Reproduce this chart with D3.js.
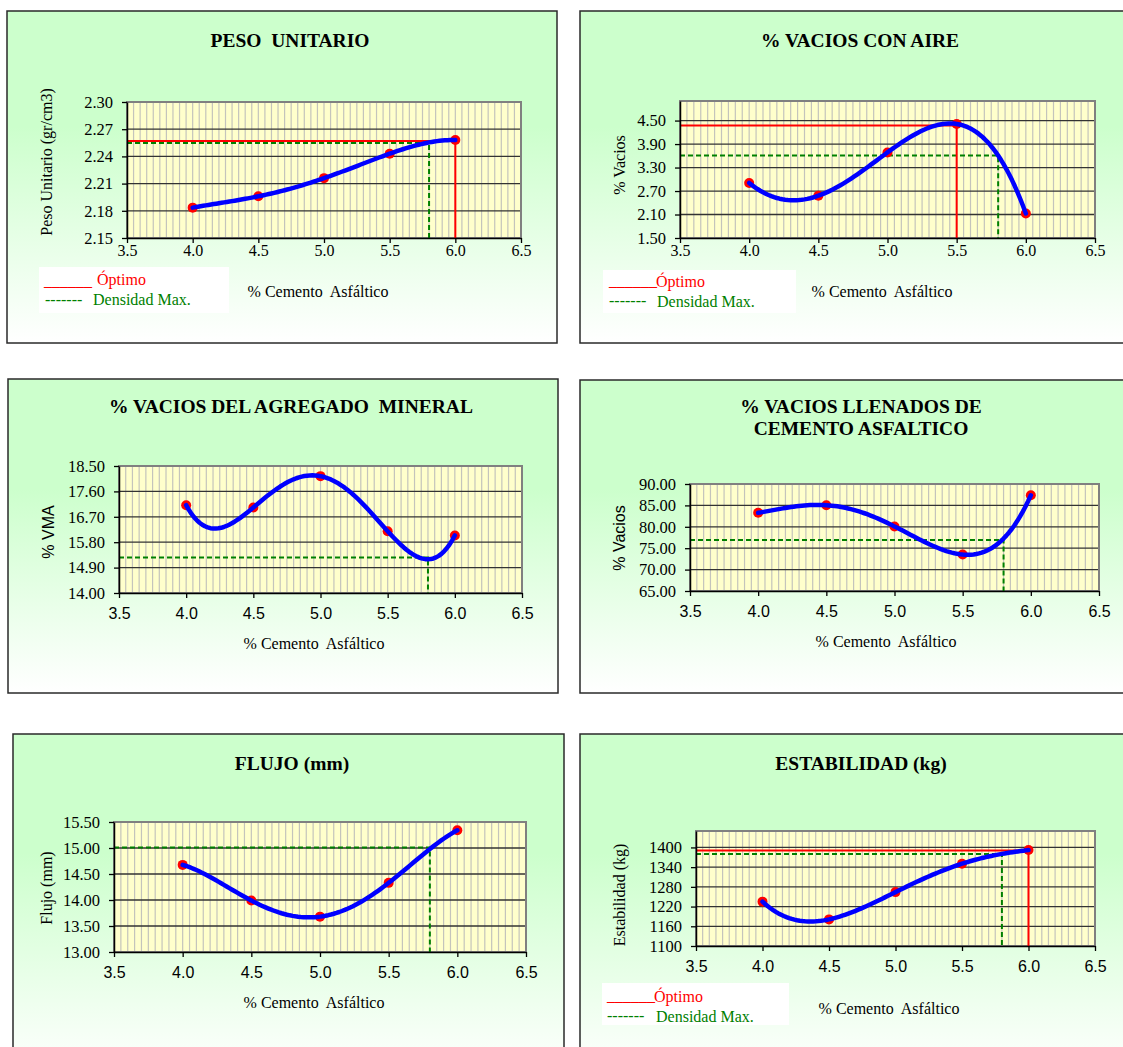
<!DOCTYPE html>
<html>
<head>
<meta charset="utf-8">
<script src="https://cdn.jsdelivr.net/npm/d3@7"></script>
<style>
	body { margin: 0; background: #fff; }
	svg { display: block; }
	.serif { font-family: "Liberation Serif", "Times New Roman", serif; }
	.sans { font-family: "Liberation Sans", Arial, sans-serif; }
</style>
</head>
<body>
<svg id="chart" width="1123" height="1047"></svg>
<script>
"use strict";

// % cemento asfaltico (eje x comun a los seis graficos)
var asfalto = [4.0, 4.5, 5.0, 5.5, 6.0];
var xTicks = [3.5, 4.0, 4.5, 5.0, 5.5, 6.0, 6.5];

// peso unitario (gr/cm3)
var pesoUnitario = [2.1835, 2.196, 2.216, 2.243, 2.258];
var pesoTicks = [2.15, 2.18, 2.21, 2.24, 2.27, 2.30];
var pesoDomain = [2.15, 2.30];
var pesoOptimo = [6.0, 2.257];
var pesoDensidad = [5.8, 2.2548];

// % vacios con aire
var vaciosAire = [2.906, 2.58, 3.686, 4.414, 2.126];
var vaciosTicks = [1.5, 2.1, 2.7, 3.3, 3.9, 4.5];
var vaciosDomain = [1.5, 5.0];
var vaciosOptimo = [5.5, 4.371];
var vaciosDensidad = [5.8, 3.609];

// % vacios del agregado mineral
var vma = [17.11, 17.03, 18.14, 16.19, 16.04];
var vmaTicks = [14.0, 14.9, 15.8, 16.7, 17.6, 18.5];
var vmaDomain = [14.0, 18.5];
var vmaDensidad = [5.8, 15.26];

// % vacios llenados de cemento asfaltico
var vfa = [83.27, 85.05, 80.09, 73.51, 87.37];
var vfaTicks = [65, 70, 75, 80, 85, 90];
var vfaDomain = [65, 90];
var vfaDensidad = [5.8, 76.92];

// flujo (mm)
var flujo = [14.675, 13.99, 13.68, 14.33, 15.34];
var flujoTicks = [13.0, 13.5, 14.0, 14.5, 15.0, 15.5];
var flujoDomain = [13.0, 15.5];
var flujoDensidad = [5.8, 15.01];

// estabilidad (kg)
var estabilidad = [1235, 1181, 1264, 1350.5, 1392];
var estabTicks = [1100, 1160, 1220, 1280, 1340, 1400];
var estabDomain = [1100, 1450];
var estabOptimo = [6.0, 1391];
var estabDensidad = [5.8, 1380];

var f2 = d3.format('.2f');
var f0 = d3.format('d');
var f1 = d3.format('.1f');

// one entry per chart: data refs + where it sits on the page
var charts = [
	{
		title: ['PESO  UNITARIO'], titleX: 290, titleY: 47,
		values: pesoUnitario, ticks: pesoTicks, domain: pesoDomain, fmt: f2,
		optimo: pesoOptimo, densidad: pesoDensidad,
		frame: [7, 11, 550, 332], plot: [127, 102, 394, 136],
		ylabel: 'Peso Unitario (gr/cm3)', ylabelFont: 'serif', ylabelPos: [46, 162],
		xFont: 'serif', xlabelPos: [318, 297],
		legend: { box: [39, 267, 190, 46], red: [44, 286], redText: [97, 285], green: [45, 305], greenText: [93, 305] }
	},
	{
		title: ['% VACIOS CON AIRE'], titleX: 860, titleY: 47,
		values: vaciosAire, ticks: vaciosTicks, domain: vaciosDomain, fmt: f2,
		optimo: vaciosOptimo, densidad: vaciosDensidad,
		frame: [580, 11, 550, 332], plot: [680, 101, 415, 137],
		ylabel: '% Vacios', ylabelFont: 'serif', ylabelPos: [619, 165],
		xFont: 'serif', xlabelPos: [882, 297],
		legend: { box: [603, 270, 193, 43], red: [609, 286], redText: [656, 287], green: [609, 306], greenText: [657, 307] }
	},
	{
		title: ['% VACIOS DEL AGREGADO  MINERAL'], titleX: 291, titleY: 413,
		values: vma, ticks: vmaTicks, domain: vmaDomain, fmt: f2,
		optimo: null, densidad: vmaDensidad,
		frame: [8, 379, 550, 314], plot: [119, 466, 403, 127],
		ylabel: '% VMA', ylabelFont: 'sans', ylabelPos: [48, 532],
		xFont: 'sans', xlabelPos: [314, 649],
		legend: null
	},
	{
		title: ['% VACIOS LLENADOS DE', 'CEMENTO ASFALTICO'], titleX: 861, titleY: 413,
		values: vfa, ticks: vfaTicks, domain: vfaDomain, fmt: f2,
		optimo: null, densidad: vfaDensidad,
		frame: [580, 380, 550, 313], plot: [690, 484, 409, 107],
		ylabel: '% Vacios', ylabelFont: 'sans', ylabelPos: [619, 538],
		xFont: 'sans', xlabelPos: [886, 647],
		legend: null
	},
	{
		title: ['FLUJO (mm)'], titleX: 292, titleY: 770,
		values: flujo, ticks: flujoTicks, domain: flujoDomain, fmt: f2,
		optimo: null, densidad: flujoDensidad,
		frame: [13, 734, 551, 340], plot: [114, 822, 412, 130],
		ylabel: 'Flujo (mm)', ylabelFont: 'serif', ylabelPos: [46, 888],
		xFont: 'sans', xlabelPos: [314, 1008],
		legend: null
	},
	{
		title: ['ESTABILIDAD (kg)'], titleX: 861, titleY: 770,
		values: estabilidad, ticks: estabTicks, domain: estabDomain, fmt: f0,
		optimo: estabOptimo, densidad: estabDensidad,
		frame: [580, 734, 550, 340], plot: [696, 831, 399, 115],
		ylabel: 'Estabilidad (kg)', ylabelFont: 'serif', ylabelPos: [619, 895],
		xFont: 'sans', xlabelPos: [889, 1014],
		legend: { box: [602, 983, 187, 42], red: [607, 1001], redText: [654, 1002], green: [607, 1021], greenText: [656, 1022] }
	}
];

var svg = d3.select('#chart');

var grad = svg.append('defs').append('linearGradient')
	.attr('id', 'bg')
	.attr('x1', 0).attr('y1', 0).attr('x2', 0).attr('y2', 1);
grad.append('stop').attr('offset', 0).attr('stop-color', '#ccffcc');
grad.append('stop').attr('offset', 0.35).attr('stop-color', '#ccffcc');
grad.append('stop').attr('offset', 1).attr('stop-color', '#ffffff');

// polynomial trendline of order n-1 (passes through every point, like Excel's order 4 on 5 points)
function trendline(xs, ys) {
	return function(t) {
		var s = 0;
		for (var i = 0; i < xs.length; i++) {
			var l = 1;
			for (var j = 0; j < xs.length; j++) {
				if (j !== i) l *= (t - xs[j]) / (xs[i] - xs[j]);
			}
			s += l * ys[i];
		}
		return s;
	};
}

function drawChart(c) {
	var g = svg.append('g');
	var fr = c.frame, p = c.plot;

	g.append('rect')
		.attr('x', fr[0]).attr('y', fr[1])
		.attr('width', fr[2]).attr('height', fr[3])
		.attr('fill', 'url(#bg)')
		.attr('stroke', '#2a2a2a')
		.attr('stroke-width', 1.5);

	// title (bold serif, may be two lines)
	c.title.forEach(function(line, i) {
		g.append('text')
			.attr('class', 'serif')
			.attr('x', c.titleX).attr('y', c.titleY + i * 22)
			.attr('text-anchor', 'middle')
			.style('font-size', '19.5px')
			.style('font-weight', 'bold')
			.style('white-space', 'pre')
			.text(line);
	});

	var x = d3.scaleLinear().domain([3.5, 6.5]).range([p[0], p[0] + p[2]]);
	var y = d3.scaleLinear().domain(c.domain).range([p[1] + p[3], p[1]]);

	g.append('rect')
		.attr('x', p[0]).attr('y', p[1])
		.attr('width', p[2]).attr('height', p[3])
		.attr('fill', '#ffffcc');

	// minor vertical gridlines every 0.05
	var minor = d3.range(71, 130).map(function(i) { return i * 0.05; });
	g.append('g').selectAll('line')
		.data(minor).enter()
		.append('line')
		.attr('x1', function(d) { return x(d); })
		.attr('x2', function(d) { return x(d); })
		.attr('y1', p[1]).attr('y2', p[1] + p[3])
		.attr('stroke', '#c4c4bc')
		.attr('stroke-width', 1.2);

	// major horizontal gridlines
	g.append('g').selectAll('line')
		.data(c.ticks).enter()
		.append('line')
		.attr('x1', p[0]).attr('x2', p[0] + p[2])
		.attr('y1', function(d) { return y(d); })
		.attr('y2', function(d) { return y(d); })
		.attr('stroke', '#333')
		.attr('stroke-width', 1.3);

	g.append('rect')
		.attr('x', p[0]).attr('y', p[1])
		.attr('width', p[2]).attr('height', p[3])
		.attr('fill', 'none')
		.attr('stroke', '#808080')
		.attr('stroke-width', 2);

	// reference lines
	var bottom = c.domain[0];
	if (c.densidad) {
		var d = c.densidad;
		g.append('path')
			.attr('d', d3.line()([[x(3.5), y(d[1])], [x(d[0]), y(d[1])], [x(d[0]), y(bottom)]]))
			.attr('fill', 'none')
			.attr('stroke', '#008000')
			.attr('stroke-width', 2)
			.attr('stroke-dasharray', '5,3');
	}
	if (c.optimo) {
		var o = c.optimo;
		g.append('path')
			.attr('d', d3.line()([[x(3.5), y(o[1])], [x(o[0]), y(o[1])], [x(o[0]), y(bottom)]]))
			.attr('fill', 'none')
			.attr('stroke', '#ff0000')
			.attr('stroke-width', 2);
	}

	// data markers
	g.append('g').selectAll('circle')
		.data(c.values).enter()
		.append('circle')
		.attr('cx', function(d, i) { return x(asfalto[i]); })
		.attr('cy', function(d) { return y(d); })
		.attr('r', 5)
		.attr('fill', '#ff0000');

	// trendline
	var fit = trendline(asfalto, c.values);
	var xs = d3.range(0, 101).map(function(i) { return 4.0 + i * 0.02; });
	g.append('path')
		.datum(xs)
		.attr('d', d3.line()
			.x(function(t) { return x(t); })
			.y(function(t) { return y(fit(t)); }))
		.attr('fill', 'none')
		.attr('stroke', '#0000ff')
		.attr('stroke-width', 4.5)
		.attr('stroke-linecap', 'round')
		.attr('stroke-linejoin', 'round');

	// axes
	var yAxis = d3.axisLeft(y)
		.tickValues(c.ticks)
		.tickFormat(c.fmt)
		.tickSize(5).tickSizeOuter(0).tickPadding(9);
	var yG = g.append('g')
		.attr('transform', 'translate(' + p[0] + ',0)')
		.call(yAxis);
	yG.selectAll('text').attr('class', 'serif').style('font-size', '16.5px');

	// serif tick labels sit closer to the axis than the Arial ones
	var xAxis = d3.axisBottom(x)
		.tickValues(xTicks)
		.tickFormat(f1)
		.tickSize(5).tickSizeOuter(0)
		.tickPadding(c.xFont === 'serif' ? 1.5 : 10);
	var xG = g.append('g')
		.attr('transform', 'translate(0,' + (p[1] + p[3]) + ')')
		.call(xAxis);
	xG.selectAll('text').attr('class', c.xFont).style('font-size', '16px');

	[yG, xG].forEach(function(ax) {
		ax.select('.domain').attr('stroke', '#000').attr('stroke-width', 1.5);
		ax.selectAll('.tick line').attr('stroke', '#000').attr('stroke-width', 1.3);
		ax.selectAll('text').attr('fill', '#000');
	});

	// axis titles
	g.append('text')
		.attr('class', c.ylabelFont)
		.attr('transform', 'translate(' + c.ylabelPos[0] + ',' + c.ylabelPos[1] + ') rotate(-90)')
		.attr('text-anchor', 'middle')
		.attr('dy', '0.35em')
		.style('font-size', '16px')
		.style('white-space', 'pre')
		.text(c.ylabel);

	g.append('text')
		.attr('class', 'serif')
		.attr('x', c.xlabelPos[0]).attr('y', c.xlabelPos[1])
		.attr('text-anchor', 'middle')
		.style('font-size', '16px')
		.style('white-space', 'pre')
		.text('% Cemento  Asfáltico');

	// legend text box
	if (c.legend) {
		var L = c.legend;
		g.append('rect')
			.attr('x', L.box[0]).attr('y', L.box[1])
			.attr('width', L.box[2]).attr('height', L.box[3])
			.attr('fill', '#ffffff');
		var items = [
			[L.red, '______', '#ff0000'],
			[L.redText, 'Óptimo', '#ff0000'],
			[L.green, '-------', '#008000'],
			[L.greenText, 'Densidad Max.', '#008000']
		];
		items.forEach(function(it) {
			g.append('text')
				.attr('class', 'serif')
				.attr('x', it[0][0]).attr('y', it[0][1])
				.attr('fill', it[2])
				.style('font-size', '16px')
				.text(it[1]);
		});
	}
}

charts.forEach(drawChart);
</script>
</body>
</html>
